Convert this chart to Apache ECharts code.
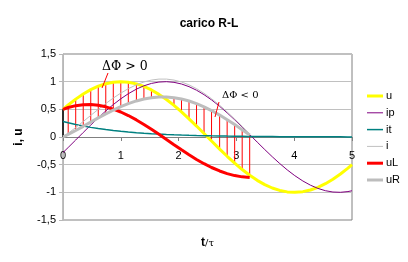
<!DOCTYPE html>
<html><head><meta charset="utf-8">
<script src="https://cdn.jsdelivr.net/npm/echarts@6/dist/echarts.min.js"></script>
<style>html,body{margin:0;padding:0;background:#fff}#c{width:408px;height:262px}</style>
</head><body><div id="c"></div>
<script>
// time t/tau
const T = [0, 0.09, 0.22, 0.35, 0.48, 0.61, 0.74, 0.87, 1.00, 1.13, 1.27, 1.40, 1.53, 1.66, 1.79, 1.92, 2.05, 2.18, 2.31, 2.44, 2.57, 2.71, 2.84, 2.97, 3.10, 3.23, 3.36, 3.49, 3.62, 3.75, 3.88, 4.01, 4.15, 4.28, 4.41, 4.54, 4.67, 4.80, 4.93, 5.00];
const U = [0.5, 0.5792, 0.6846, 0.7772, 0.8554, 0.9177, 0.9632, 0.9908, 1.0, 0.9908, 0.9603, 0.9135, 0.8499, 0.7705, 0.6769, 0.5707, 0.4540, 0.3289, 0.1977, 0.0628, -0.0732, -0.2181, -0.3485, -0.4726, -0.5878, -0.6922, -0.7836, -0.8607, -0.9218, -0.9659, -0.9921, -0.9999, -0.9877, -0.9573, -0.9092, -0.8443, -0.7638, -0.6691, -0.5621, -0.5];
const IP = [-0.281, -0.1894, -0.0544, 0.0816, 0.2162, 0.3467, 0.4707, 0.5862, 0.6906, 0.7824, 0.8650, 0.9251, 0.9681, 0.9931, 0.9998, 0.9880, 0.9579, 0.9101, 0.8455, 0.7651, 0.6707, 0.5551, 0.4371, 0.3110, 0.1791, 0.0439, -0.0921, -0.2263, -0.3565, -0.4800, -0.5946, -0.6982, -0.7953, -0.8702, -0.9290, -0.9707, -0.9943, -0.9996, -0.9863, -0.9716];
const IT = [0.281, 0.2568, 0.2255, 0.1980, 0.1739, 0.1527, 0.1341, 0.1177, 0.1034, 0.0908, 0.0789, 0.0693, 0.0608, 0.0534, 0.0469, 0.0412, 0.0362, 0.0318, 0.0279, 0.0245, 0.0215, 0.0187, 0.0164, 0.0144, 0.0127, 0.0111, 0.0098, 0.0086, 0.0075, 0.0066, 0.0058, 0.0051, 0.0044, 0.0039, 0.0034, 0.0030, 0.0026, 0.0023, 0.0020, 0.0019];
const I = [0, 0.0674, 0.1711, 0.2796, 0.3901, 0.4994, 0.6048, 0.7039, 0.7940, 0.8732, 0.9439, 0.9944, 1.0289, 1.0465, 1.0467, 1.0292, 0.9941, 0.9419, 0.8734, 0.7896, 0.6922, 0.5738, 0.4535, 0.3254, 0.1918, 0.0550];
const UR = [0, 0.0465, 0.1182, 0.1931, 0.2694, 0.3449, 0.4177, 0.4861, 0.5483, 0.6030, 0.6519, 0.6867, 0.7106, 0.7227, 0.7228, 0.7108, 0.6865, 0.6505, 0.6032, 0.5453, 0.4780, 0.3963, 0.3132, 0.2247, 0.1325, 0.0380];
const UL = [0.5, 0.5328, 0.5664, 0.5841, 0.5860, 0.5728, 0.5455, 0.5047, 0.4517, 0.3878, 0.3084, 0.2268, 0.1393, 0.0478, -0.0459, -0.1401, -0.2325, -0.3216, -0.4055, -0.4825, -0.5512, -0.6144, -0.6617, -0.6973, -0.7203, -0.7302];
const NAMES = ['u', 'ip', 'it', 'i', 'uL', 'uR'];
const SERIES_DATA = [U, IP, IT, I, UL, UR];

const COLORS = ['#ffff00', '#800080', '#008080', '#c0c0c0', '#ff0000', '#bdbdbd'];
const WIDTHS = [3, 1, 1.5, 1, 3, 3];

const pts = (arr) => arr.map((v, k) => [T[k], v]);
const drops = UR.map((v, k) => [T[k], U[k], v]);
const FONT = 'Liberation Sans, Arial, sans-serif';
const fmt = (v) => String(v).replace('.', ',');

const lineSeries = NAMES.map((n, s) => ({
  type: 'line', name: n, data: pts(SERIES_DATA[s]), symbol: 'none', z: 3,
  lineStyle: {color: COLORS[s], width: WIDTHS[s]}, itemStyle: {color: COLORS[s]}
}));

const legendGraphics = [];
NAMES.forEach((n, s) => {
  const y = 96 + s * 16.8;
  legendGraphics.push({type: 'line', shape: {x1: 367, y1: y, x2: 383, y2: y}, style: {stroke: COLORS[s], lineWidth: WIDTHS[s]}, z: 10});
  legendGraphics.push({type: 'text', x: 386, y: y, style: {text: n, font: '11px ' + FONT, fill: '#000', textVerticalAlign: 'middle', verticalAlign: 'middle'}, z: 10});
});

const chart = echarts.init(document.getElementById('c'), null, {renderer: 'canvas'});
chart.setOption({
  animation: false,
  backgroundColor: '#fff',
  title: {text: 'carico R-L', left: 204, textAlign: 'center', top: 13,
    textStyle: {fontFamily: FONT, fontSize: 12, fontWeight: 'bold', color: '#000'}},
  grid: {left: 63, right: 56, top: 54, bottom: 42, show: true, borderColor: '#808080', borderWidth: 1, backgroundColor: '#fff'},
  xAxis: {
    type: 'value', min: 0, max: 5, interval: 1, offset: -83,
    name: '{b|t}{n|/τ}', nameLocation: 'middle', nameGap: 100,
    nameTextStyle: {rich: {b: {fontFamily: FONT, fontWeight: 'bold', fontSize: 12, color: '#000'}, n: {fontFamily: 'DejaVu Serif, serif', fontSize: 10, color: '#000'}}},
    axisLine: {onZero: false, lineStyle: {color: '#808080'}},
    axisTick: {show: true, length: 4, lineStyle: {color: '#808080'}},
    axisLabel: {fontFamily: FONT, fontSize: 11, color: '#000', margin: 13, formatter: fmt},
    splitLine: {show: false}
  },
  yAxis: {
    type: 'value', min: -1.5, max: 1.5, interval: 0.5,
    name: 'i, u', nameLocation: 'middle', nameGap: 38, nameRotate: 90,
    nameTextStyle: {fontFamily: FONT, fontWeight: 'bold', fontSize: 12, color: '#000'},
    axisLine: {show: true, lineStyle: {color: '#b8b8b8'}},
    axisTick: {show: true, length: 4, lineStyle: {color: '#b8b8b8'}},
    axisLabel: {fontFamily: FONT, fontSize: 11, color: '#000', margin: 7, formatter: fmt},
    splitLine: {show: true, lineStyle: {color: '#c0c0c0', width: 1}}
  },
  series: [
    {type: 'custom', name: 'drops', data: drops, z: 1,
      renderItem: (params, api) => {
        const t = api.value(0);
        const a = api.coord([t, api.value(1)]);
        const b = api.coord([t, api.value(2)]);
        return {type: 'line', shape: {x1: a[0], y1: a[1], x2: b[0], y2: b[1]},
          style: {stroke: params.dataIndex === 0 ? '#000' : '#ff0000', lineWidth: params.dataIndex === 0 ? 1.5 : 1}};
      }}
  ].concat(lineSeries),
  graphic: [
    {type: 'text', left: 102, top: 60, style: {text: 'ΔΦ > 0', font: '12.5px "DejaVu Serif", serif', fill: '#000'}, z: 10},
    {type: 'line', shape: {x1: 102, y1: 88, x2: 108, y2: 73}, style: {stroke: '#ff0000', lineWidth: 1}, z: 10},
    {type: 'text', left: 222, top: 90, style: {text: 'ΔΦ < 0', font: '10px "DejaVu Serif", serif', fill: '#000'}, z: 10},
    {type: 'line', shape: {x1: 219, y1: 102, x2: 215, y2: 117}, style: {stroke: '#ff0000', lineWidth: 1}, z: 10}
  ].concat(legendGraphics)
});
</script></body></html>
